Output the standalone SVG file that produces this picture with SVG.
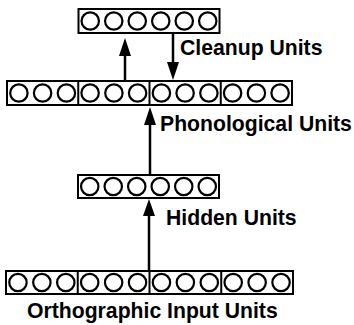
<svg xmlns="http://www.w3.org/2000/svg" width="354" height="325" viewBox="0 0 354 325">
<style>
.box{fill:#fff;stroke:#000;stroke-width:2}
.div{stroke:#000;stroke-width:2}
.u{fill:none;stroke:#000;stroke-width:2.2}
.lbl{font-family:"Liberation Sans",Arial,sans-serif;font-weight:bold;font-size:21.2px;fill:#000}
.ln{stroke:#000;stroke-width:2.5;fill:none}
.hd{fill:#000}
</style>
<rect width="354" height="325" fill="#fff"/>
<g id="connectors">
<line class="ln" x1="125" y1="81" x2="125" y2="50"/>
<polygon class="hd" points="125,38 119,56 131,56"/>
<line class="ln" x1="173" y1="33" x2="173" y2="66"/>
<polygon class="hd" points="173,80 167,62 179,62"/>
<line class="ln" x1="150" y1="175" x2="150" y2="118"/>
<polygon class="hd" points="150,107 144,125 156,125"/>
<line class="ln" x1="149" y1="271" x2="149" y2="210"/>
<polygon class="hd" points="149,199 143,216 155,216"/>
</g>
<g id="cleanup">
<rect class="box" x="78.5" y="9" width="141" height="24"/>
<circle class="u" cx="90.25" cy="21" r="8.7"/>
<circle class="u" cx="113.75" cy="21" r="8.7"/>
<circle class="u" cx="137.25" cy="21" r="8.7"/>
<circle class="u" cx="160.75" cy="21" r="8.7"/>
<circle class="u" cx="184.25" cy="21" r="8.7"/>
<circle class="u" cx="207.75" cy="21" r="8.7"/>
<text class="lbl" x="180" y="55">Cleanup Units</text>
</g>
<g id="phonological">
<rect class="box" x="7" y="81" width="285" height="24"/>
<line class="div" x1="78.25" y1="81" x2="78.25" y2="105"/>
<line class="div" x1="149.5" y1="81" x2="149.5" y2="105"/>
<line class="div" x1="220.75" y1="81" x2="220.75" y2="105"/>
<circle class="u" cx="18.9" cy="93" r="8.7"/>
<circle class="u" cx="42.6" cy="93" r="8.7"/>
<circle class="u" cx="66.4" cy="93" r="8.7"/>
<circle class="u" cx="90.1" cy="93" r="8.7"/>
<circle class="u" cx="113.9" cy="93" r="8.7"/>
<circle class="u" cx="137.6" cy="93" r="8.7"/>
<circle class="u" cx="161.4" cy="93" r="8.7"/>
<circle class="u" cx="185.1" cy="93" r="8.7"/>
<circle class="u" cx="208.9" cy="93" r="8.7"/>
<circle class="u" cx="232.6" cy="93" r="8.7"/>
<circle class="u" cx="256.4" cy="93" r="8.7"/>
<circle class="u" cx="280.1" cy="93" r="8.7"/>
<text class="lbl" x="160" y="131">Phonological Units</text>
</g>
<g id="hidden">
<rect class="box" x="78" y="175" width="141" height="23"/>
<circle class="u" cx="89.75" cy="186.5" r="8.7"/>
<circle class="u" cx="113.25" cy="186.5" r="8.7"/>
<circle class="u" cx="136.75" cy="186.5" r="8.7"/>
<circle class="u" cx="160.25" cy="186.5" r="8.7"/>
<circle class="u" cx="183.75" cy="186.5" r="8.7"/>
<circle class="u" cx="207.25" cy="186.5" r="8.7"/>
<text class="lbl" x="166" y="225">Hidden Units</text>
</g>
<g id="orthographic">
<rect class="box" x="6" y="271" width="287" height="23"/>
<line class="div" x1="77.75" y1="271" x2="77.75" y2="294"/>
<line class="div" x1="149.5" y1="271" x2="149.5" y2="294"/>
<line class="div" x1="221.25" y1="271" x2="221.25" y2="294"/>
<circle class="u" cx="17.96" cy="282.5" r="8.7"/>
<circle class="u" cx="41.88" cy="282.5" r="8.7"/>
<circle class="u" cx="65.79" cy="282.5" r="8.7"/>
<circle class="u" cx="89.71" cy="282.5" r="8.7"/>
<circle class="u" cx="113.63" cy="282.5" r="8.7"/>
<circle class="u" cx="137.54" cy="282.5" r="8.7"/>
<circle class="u" cx="161.46" cy="282.5" r="8.7"/>
<circle class="u" cx="185.38" cy="282.5" r="8.7"/>
<circle class="u" cx="209.29" cy="282.5" r="8.7"/>
<circle class="u" cx="233.21" cy="282.5" r="8.7"/>
<circle class="u" cx="257.13" cy="282.5" r="8.7"/>
<circle class="u" cx="281.04" cy="282.5" r="8.7"/>
<text class="lbl" x="27" y="318">Orthographic Input Units</text>
</g>
</svg>
